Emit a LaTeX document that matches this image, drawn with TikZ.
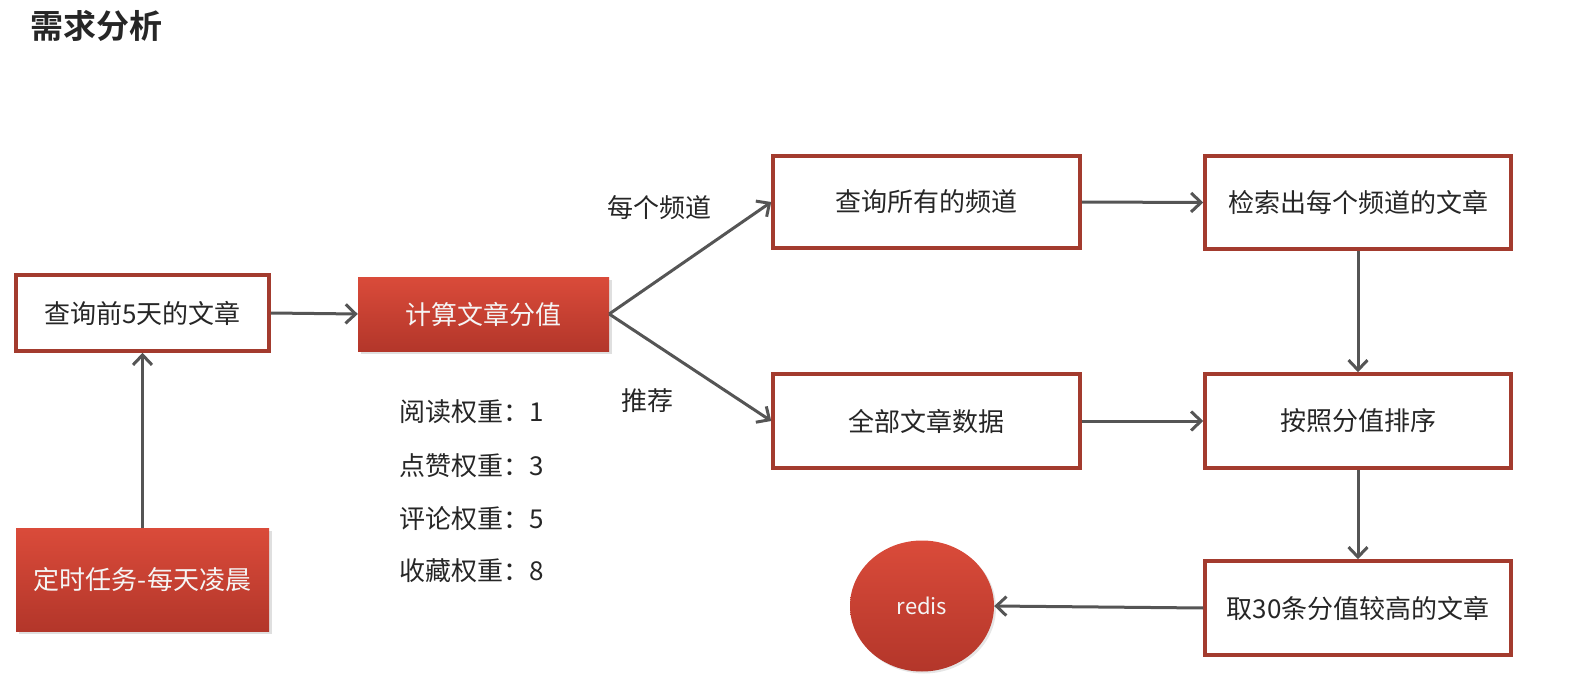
\documentclass[tikz,border=0pt]{standalone}
\usepackage{fontspec}
\setmainfont{Noto Sans CJK SC}
\newfontfamily\titlefont{Noto Sans CJK SC Bold}
\usetikzlibrary{arrows.meta,shapes.geometric,shadows}
\definecolor{boxred}{HTML}{A33B2E}
\definecolor{fillTop}{HTML}{DA4B3A}
\definecolor{fillBot}{HTML}{B3362A}
\definecolor{arrowgray}{HTML}{555555}
\tikzset{
  plainbox/.style={draw=boxred, line width=3.5pt, fill=white, rectangle, inner sep=0pt,
    font=\fontsize{26}{30}\selectfont, text=black!85},
  redbox/.style={rectangle, inner sep=0pt, top color=fillTop, bottom color=fillBot,
    drop shadow={opacity=0.25, shadow xshift=3pt, shadow yshift=-3pt},
    font=\fontsize{26}{30}\selectfont, text=white!96!black},
  link/.style={draw=arrowgray, line width=3pt, -{Straight Barb[length=10pt,width=19pt,line width=3pt]}},
  lbl/.style={font=\fontsize{26}{30}\selectfont, text=black!85, inner sep=0pt},
}
\begin{document}
\begin{tikzpicture}[x=1pt,y=-1pt]
\useasboundingbox (0,0) rectangle (1577,679);
\node[anchor=west, inner sep=0pt, font=\titlefont\fontsize{33}{37}\selectfont, text=black!85] (title) at (30,26) {需求分析};

\node[plainbox, minimum width=253pt, minimum height=76pt] (q5) at (142.5,313) {查询前5天的文章};
\node[redbox, minimum width=251pt, minimum height=74pt] (calc) at (483.5,314) {计算文章分值};
\node[plainbox, minimum width=307pt, minimum height=92pt] (chan) at (926.5,202) {查询所有的频道};
\node[plainbox, minimum width=306pt, minimum height=93pt] (each) at (1358,202.5) {检索出每个频道的文章};
\node[plainbox, minimum width=307pt, minimum height=94pt] (all) at (926.5,421) {全部文章数据};
\node[plainbox, minimum width=306pt, minimum height=94pt] (sort) at (1358,421) {按照分值排序};
\node[plainbox, minimum width=306pt, minimum height=94pt] (top) at (1358,608) {取30条分值较高的文章};
\node[redbox, minimum width=253pt, minimum height=103pt] (job) at (142.5,579.5) {定时任务-每天凌晨};
\node[ellipse, inner sep=0pt, minimum width=144pt, minimum height=131pt, top color=fillTop, bottom color=fillBot,
  drop shadow={opacity=0.2, shadow xshift=2pt, shadow yshift=-2pt},
  font=\fontsize{22}{26}\selectfont, text=white!96!black] (redis) at (922,606) {redis};

\node[lbl] (l1) at (659,208) {每个频道};
\node[lbl] (l2) at (647,401) {推荐};
\node[lbl, anchor=west] (w1) at (399,412) {阅读权重：1};
\node[lbl, anchor=west] (w2) at (399,466) {点赞权重：3};
\node[lbl, anchor=west] (w3) at (399,519) {评论权重：5};
\node[lbl, anchor=west] (w4) at (399,571) {收藏权重：8};

\draw[link] (q5.east) -- (calc.west);
\draw[link] (job.north) -- (q5.south);
\draw[link] (calc.east) -- (chan.west);
\draw[link] (calc.east) -- (all.west);
\draw[link] (chan.east) -- (each.west);
\draw[link] (each.south) -- (sort.north);
\draw[link] (all.east) -- (sort.west);
\draw[link] (sort.south) -- (top.north);
\draw[link] (top.west) -- (redis.east);
\end{tikzpicture}
\end{document}
